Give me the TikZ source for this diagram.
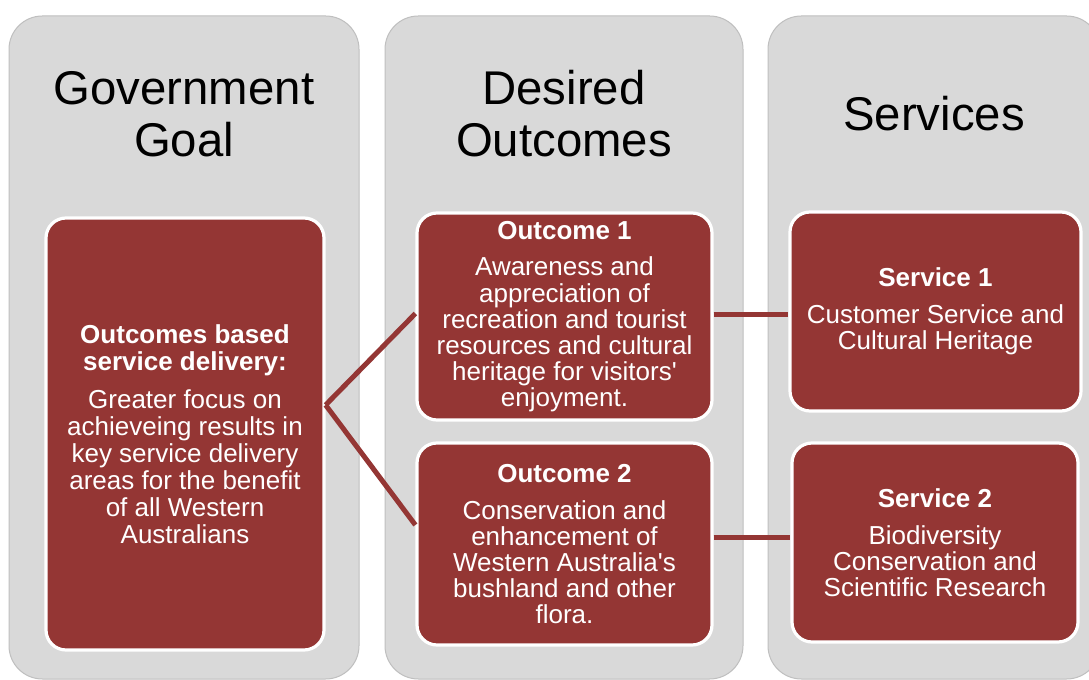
\documentclass[tikz,border=0pt]{standalone}
\usepackage{fontspec}
\setmainfont{Liberation Sans}
\usetikzlibrary{calc}
\definecolor{boxred}{HTML}{943634}
\definecolor{colgray}{HTML}{D9D9D9}
\definecolor{colline}{HTML}{BFBFBF}
\begin{document}
\begin{tikzpicture}[x=0.75pt,y=-0.75pt,
  column/.style={fill=colgray,draw=colline,line width=0.75pt,rounded corners=25pt},
  coltitle/.style={align=center,font=\fontsize{35.5}{39}\selectfont,text=black,inner sep=0pt},
  redbox/.style={fill=boxred,draw=white,line width=2.4pt,rounded corners=15pt,text=white,
    align=center,font=\fontsize{19.5}{19.6}\selectfont,inner sep=0pt},
  link/.style={draw=boxred,line width=3.75pt}]
\useasboundingbox (0,0) rectangle (1089,680);
\clip (0,0) rectangle (1089,680);
\fill[white] (0,0) rectangle (1089,680);
% columns
\draw[column] (9,16) rectangle (359,679);
\draw[column] (385,16) rectangle (743,679);
\draw[column] (768,16) rectangle (1100,679);
% titles
\node[coltitle] (t1) at (184,114) {Government\\Goal};
\node[coltitle] (t2) at (564,114) {Desired\\Outcomes};
\node[coltitle] (t3) at (934,114) {Services};
% boxes
\node[redbox,font=\fontsize{19.5}{20.3}\selectfont,minimum width=278*0.75pt,minimum height=432*0.75pt] (goal) at (185,434)
  {\textbf{Outcomes based}\\\textbf{service delivery:}\\[8pt]Greater focus on\\achieveing results in\\key service delivery\\areas for the benefit\\of all Western\\Australians};
\node[redbox,minimum width=295*0.75pt,minimum height=207*0.75pt] (o1) at (564.5,316.5)
  {\textbf{Outcome 1}\\[8pt]Awareness and\\appreciation of\\recreation and tourist\\resources and cultural\\heritage for visitors\textquotesingle\\enjoyment.};
\node[redbox,minimum width=295*0.75pt,minimum height=202*0.75pt] (o2) at (564.5,544)
  {\textbf{Outcome 2}\\[8pt]Conservation and\\enhancement of\\Western Australia\textquotesingle s\\bushland and other\\flora.};
\node[redbox,minimum width=291*0.75pt,minimum height=199*0.75pt] (s1) at (935.5,311.5)
  {\textbf{Service 1}\\[8pt]Customer Service and\\Cultural Heritage};
\node[redbox,minimum width=286*0.75pt,minimum height=199*0.75pt] (s2) at (935,542.5)
  {\textbf{Service 2}\\[8pt]Biodiversity\\Conservation and\\Scientific Research};
% connectors
\coordinate (apex) at ($(goal.east)+(0,-29)$);
\coordinate (o1in) at ($(o1.west)+(0,-3)$);
\coordinate (o2in) at ($(o2.west)+(0,-19)$);
\coordinate (o1out) at ($(o1.east)+(0,-2)$);
\coordinate (o2out) at ($(o2.east)+(0,-6)$);
\draw[link] (apex) -- (o1in);
\draw[link] (apex) -- (o2in);
\draw[link] (o1out) -- (o1out -| s1.west);
\draw[link] (o2out) -- (o2out -| s2.west);
\end{tikzpicture}
\end{document}
